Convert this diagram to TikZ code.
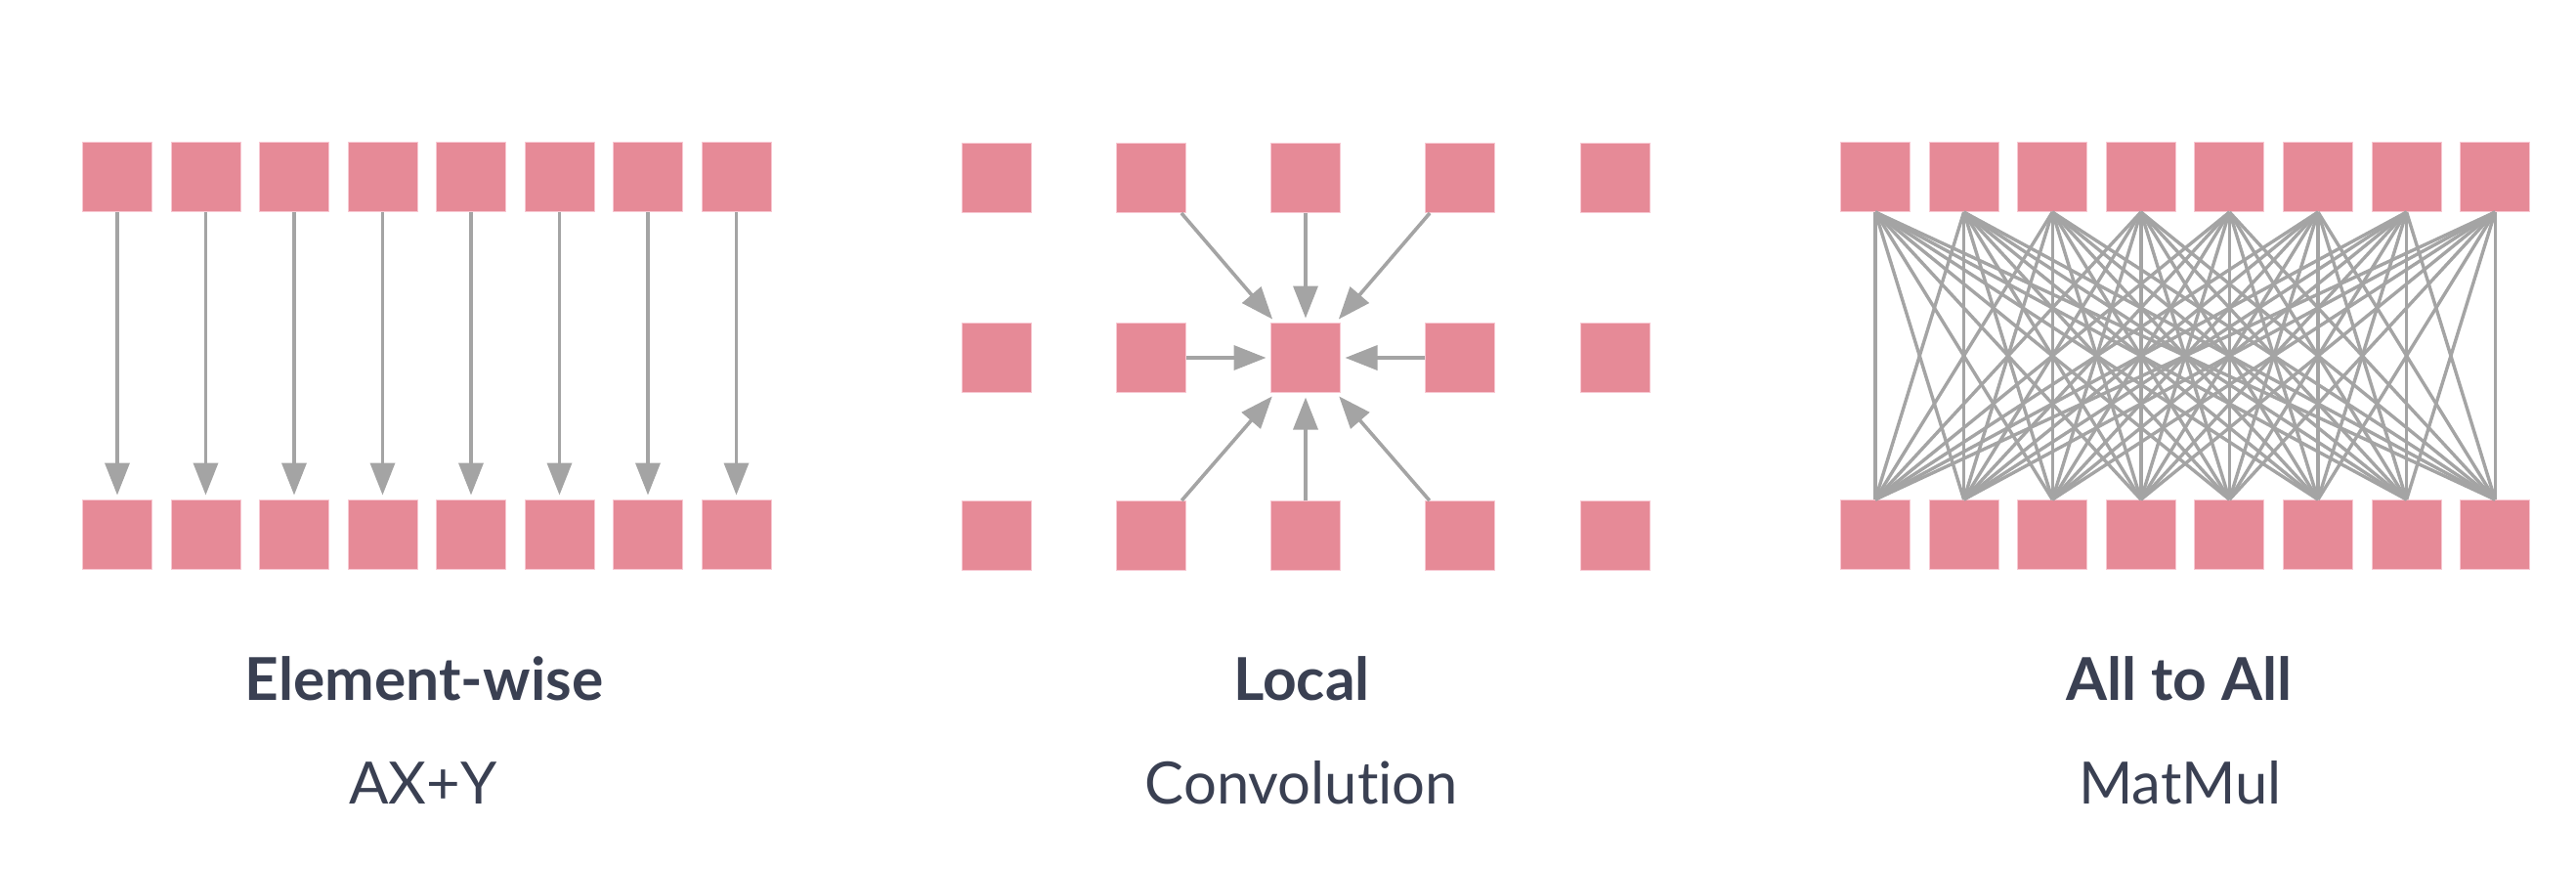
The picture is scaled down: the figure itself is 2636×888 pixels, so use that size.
\documentclass[tikz,border=0pt]{standalone}
\usepackage{fontspec}
\setmainfont{Lato}[Ligatures=NoCommon]
\usetikzlibrary{arrows.meta}
\definecolor{boxpink}{RGB}{230,138,151}
\definecolor{boxrim}{RGB}{248,200,210}
\definecolor{linkgray}{RGB}{164,164,164}
\definecolor{labelink}{RGB}{58,64,82}
\begin{document}
\begin{tikzpicture}
    [x=0.1mm, y=-0.1mm,
     cell/.style={rectangle, fill=boxpink, draw=boxrim, line width=0.1mm,
       minimum size=7.1mm, inner sep=0pt},
     flow/.style={draw=linkgray, line width=0.36mm,
       -{Triangle[length=3.3mm,width=2.5mm]}, shorten >=0.45mm},
     link/.style={draw=linkgray, line width=0.34mm},
     title/.style={anchor=base, text=labelink,
       font=\fontsize{17.2}{20}\selectfont\bfseries},
     caption/.style={anchor=base, text=labelink,
       font=\fontsize{17}{20}\selectfont}]
    \useasboundingbox (0,0) rectangle (2636,888);

    % element-wise
    \foreach \i in {1,...,8} {
      \node[cell] (et\i) at ({120+90.5*(\i-1)},181) {};
      \node[cell] (eb\i) at ({120+90.5*(\i-1)},547) {};
      \draw[flow] (et\i) -- (eb\i);
    }
    \node[title] (ewTitle) at (434,716) {Element-wise};
    \node[caption] (ewSub) at (433,822) {AX+Y};

    % local
    \foreach \c/\x in {1/1020,2/1178,3/1336,4/1494,5/1653}
      \foreach \r/\y in {1/182,2/366,3/548}
        \node[cell] (l\c\r) at (\x,\y) {};
    \foreach \c/\r in {2/1,3/1,4/1,2/2,4/2,2/3,3/3,4/3}
      \draw[flow] (l\c\r) -- (l32);
    \node[title] (locTitle) at (1332,716) {Local};
    \node[caption] (locSub) at (1332,822) {Convolution};

    % all to all
    \foreach \i in {1,...,8} {
      \node[cell] (at\i) at ({1919+90.6*(\i-1)},181) {};
      \node[cell] (ab\i) at ({1919+90.6*(\i-1)},547) {};
    }
    \foreach \i in {1,...,8}
      \foreach \j in {1,...,8}
        \draw[link] (at\i.south) -- (ab\j.north);
    \node[title] (aaTitle) at (2230,716) {All to All};
    \node[caption] (aaSub) at (2231,822) {MatMul};
\end{tikzpicture}
\end{document}
